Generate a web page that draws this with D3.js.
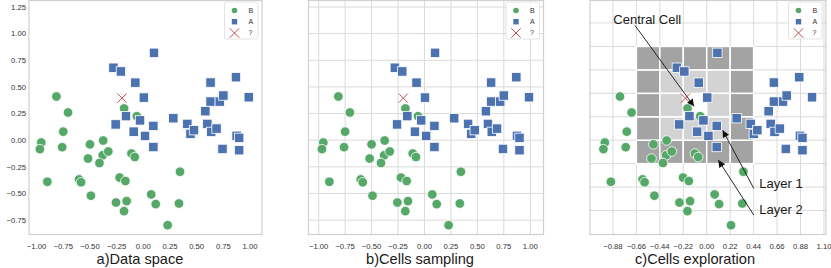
<!DOCTYPE html>
<html>
<head>
<meta charset="utf-8">
<script src="https://cdn.jsdelivr.net/npm/d3@7"></script>
<style>
  body { margin: 0; background: #fff; }
  text { font-family: "Liberation Sans", Arial, sans-serif; }
</style>
</head>
<body>
<div id="chart"></div>
<script>
// class B (green circles)
var bX = [-0.814, -0.705, -0.75, -0.76, -0.956, -0.969, -0.899, -0.5, -0.518, -0.376,
          -0.381, -0.328, -0.411, -0.602, -0.583, -0.491, -0.18, -0.061, -0.111, -0.08,
          -0.222, -0.168, -0.256, -0.156, -0.181, 0.074, 0.116, 0.344, 0.334, 0.228];
var bY = [0.41, 0.26, 0.08, -0.066, -0.022, -0.084, -0.39, -0.039, -0.172, -0.003,
          -0.142, -0.106, -0.214, -0.368, -0.395, -0.521, 0.298, 0.225, -0.125, -0.158,
          -0.351, -0.383, -0.585, -0.572, -0.666, -0.509, -0.6, -0.296, -0.594, -0.798];
// class A (blue squares)
var aX = [0.10, -0.28, -0.21, -0.075, 0.005, -0.162, -0.259, -0.031, -0.09, 0.016,
          0.094, 0.094, 0.281, 0.4125, 0.442, 0.475, 0.581, 0.60, 0.63, 0.63,
          0.636, 0.686, 0.716, 0.75, 0.742, 0.868, 0.874, 0.898, 0.898, 0.988];
var aY = [0.82, 0.68, 0.645, 0.54, 0.40, 0.226, 0.148, 0.186, 0.08, 0.04,
          0.134, -0.064, 0.206, 0.153, 0.059, 0.094, 0.272, 0.153, 0.541, 0.3625,
          0.078, 0.109, 0.3625, 0.419, -0.082, 0.591, 0.041, 0.022, -0.094, 0.403];
// unknown point
var queryX = [-0.2];
var queryY = [0.395];

var ticksAB = [-1.00, -0.75, -0.50, -0.25, 0.00, 0.25, 0.50, 0.75, 1.00];
var ticksY = [-0.75, -0.50, -0.25, 0.00, 0.25, 0.50, 0.75, 1.00, 1.25];
var ticksC = [-0.88, -0.66, -0.44, -0.22, 0.00, 0.22, 0.44, 0.66, 0.88, 1.10];
var legendLabels = ["B", "A", "?"];
var titles = ["a)Data space", "b)Cells sampling", "c)Cells exploration"];

// cells: size, lower-left corner of central cell, layer index per color
var cellSize = 0.22;
var centralCell = [-0.22, 0.22];
var layerCount = 2;

// annotations in panel c (data coords): text pos, arrow start, arrow end
var notes = [
  { label: "Central Cell", tx: -0.876, ty: 1.087, from: [-0.673, 1.077], to: [-0.119, 0.318] },
  { label: "Layer 1", tx: 0.493, ty: -0.446, from: [0.441, -0.452], to: [0.150, 0.094] },
  { label: "Layer 2", tx: 0.493, ty: -0.696, from: [0.441, -0.702], to: [0.109, -0.187] }
];

function init(){

    var w = 831;
    var h = 268;

    var green = "#55a868", blue = "#4c72b0", red = "#c44e52";
    var gridColor = "#dadada";

    var svg = d3.select("#chart")
                .append("svg")
                .attr("width", w)
                .attr("height", h);

    svg.append("defs").append("marker")
        .attr("id", "head")
        .attr("viewBox", "0 0 10 10")
        .attr("refX", 10).attr("refY", 5)
        .attr("markerWidth", 9).attr("markerHeight", 7)
        .attr("markerUnits", "userSpaceOnUse")
        .attr("orient", "auto")
        .append("path")
        .attr("d", "M0,0 L10,5 L0,10 z")
        .attr("fill", "#111");

    var y = d3.scaleLinear().domain([-0.885, 1.311]).range([234.5, 0.5]);

    var panels = [
        { x: d3.scaleLinear().domain([-1.071, 1.112]).range([29, 262]), grid: false, xt: ticksAB, yt: ticksY, cx: 140 },
        { x: d3.scaleLinear().domain([-1.096, 1.125]).range([308.5, 543.5]), grid: true, xt: ticksAB, yt: ticksY, cx: 420 },
        { x: d3.scaleLinear().domain([-1.095, 1.119]).range([590, 826]), grid: true, xt: ticksC, yt: ticksC, cx: 695 }
    ];

    var fmt = d3.format(".2f");

    panels.forEach(function(p, k){

        var x = p.x;
        var g = svg.append("g");
        var x0 = x.range()[0], x1 = x.range()[1];
        var y0 = y.range()[1], y1 = y.range()[0];

        // grid lines
        if (p.grid) {
            g.selectAll("line.vg")
                .data(p.xt.filter(function(d){ return x(d) > x0 + 1 && x(d) < x1 - 1; }))
                .enter().append("line")
                .attr("x1", function(d){ return x(d); })
                .attr("x2", function(d){ return x(d); })
                .attr("y1", y0).attr("y2", y1)
                .attr("stroke", gridColor).attr("stroke-width", 1);
            g.selectAll("line.hg")
                .data(p.yt.filter(function(d){ return y(d) > y0 + 1 && y(d) < y1 - 1; }))
                .enter().append("line")
                .attr("x1", x0).attr("x2", x1)
                .attr("y1", function(d){ return y(d); })
                .attr("y2", function(d){ return y(d); })
                .attr("stroke", gridColor).attr("stroke-width", 1);
        }

        // explored cells (panel c only)
        if (k == 2) {
            var cells = [];
            for (var i = -layerCount; i <= layerCount; i++) {
                for (var j = -layerCount; j <= layerCount; j++) {
                    cells.push({ i: i, j: j, layer: Math.max(Math.abs(i), Math.abs(j)) });
                }
            }
            var cellColor = ["#ffffff", "#d3d3d3", "#a3a3a3"];
            g.selectAll("rect.cell")
                .data(cells)
                .enter().append("rect")
                .attr("x", function(d){ return x(centralCell[0] + d.i * cellSize); })
                .attr("y", function(d){ return y(centralCell[1] + (d.j + 1) * cellSize); })
                .attr("width", function(d){ return x(cellSize) - x(0); })
                .attr("height", function(d){ return y(0) - y(cellSize); })
                .attr("fill", function(d){ return cellColor[d.layer]; })
                .attr("stroke", "#fff")
                .attr("stroke-width", 1.5);
        }

        // frame
        g.append("rect")
            .attr("x", x0).attr("y", y0)
            .attr("width", x1 - x0).attr("height", y1 - y0)
            .attr("fill", "none")
            .attr("stroke", "#d0d0d0")
            .attr("stroke-width", 1.2);

        // x tick labels
        g.selectAll("text.xt")
            .data(p.xt)
            .enter().append("text")
            .attr("x", function(d){ return x(d); })
            .attr("y", 249)
            .attr("text-anchor", "middle")
            .attr("font-size", "7.7px")
            .attr("fill", "#333")
            .text(function(d){ return fmt(d); });

        // y tick labels, only first panel
        if (k == 0) {
            g.selectAll("text.yt")
                .data(p.yt)
                .enter().append("text")
                .attr("x", x0 - 3)
                .attr("y", function(d){ return y(d) + 2.8; })
                .attr("text-anchor", "end")
                .attr("font-size", "7.7px")
                .attr("fill", "#333")
                .text(function(d){ return fmt(d); });
        }

        // points: green then blue
        g.selectAll("circle.b")
            .data(d3.range(bX.length))
            .enter().append("circle")
            .attr("cx", function(i){ return x(bX[i]); })
            .attr("cy", function(i){ return y(bY[i]); })
            .attr("r", 4.8)
            .attr("fill", green)
            .attr("stroke", "#fff")
            .attr("stroke-width", 0.8);

        var s = 9.4;
        g.selectAll("rect.a")
            .data(d3.range(aX.length))
            .enter().append("rect")
            .attr("x", function(i){ return x(aX[i]) - s / 2; })
            .attr("y", function(i){ return y(aY[i]) - s / 2; })
            .attr("width", s).attr("height", s)
            .attr("fill", blue)
            .attr("stroke", "#fff")
            .attr("stroke-width", 0.8);

        var q = 4.6;
        queryX.forEach(function(qx, i){
            var px = x(qx), py = y(queryY[i]);
            g.append("path")
                .attr("d", "M" + (px - q) + "," + (py - q) + "L" + (px + q) + "," + (py + q) +
                           "M" + (px - q) + "," + (py + q) + "L" + (px + q) + "," + (py - q))
                .attr("stroke", red)
                .attr("stroke-width", 1)
                .attr("fill", "none");
        });

        // legend
        var lx = x1 - 37.5, ly = 2;
        var lg = g.append("g").attr("transform", "translate(" + lx + "," + ly + ")");
        lg.append("rect")
            .attr("width", 33.5).attr("height", 37)
            .attr("rx", 2)
            .attr("fill", "#fff")
            .attr("fill-opacity", 0.85)
            .attr("stroke", "#dcdcdc")
            .attr("stroke-width", 0.8);
        lg.append("circle").attr("cx", 10).attr("cy", 8.5).attr("r", 2.8).attr("fill", green);
        lg.append("rect").attr("x", 7.3).attr("y", 17).attr("width", 5.4).attr("height", 5.4).attr("fill", blue);
        lg.append("path")
            .attr("d", "M5.3,27.3L14.7,36.7M5.3,36.7L14.7,27.3")
            .attr("transform", "translate(0,-1)")
            .attr("stroke", red).attr("stroke-width", 1);
        lg.selectAll("text")
            .data(legendLabels)
            .enter().append("text")
            .attr("x", 24)
            .attr("y", function(d, i){ return 11 + i * 11; })
            .attr("font-size", "7px")
            .attr("fill", "#333")
            .text(function(d){ return d; });

        // annotations
        if (k == 2) {
            notes.forEach(function(n){
                g.append("line")
                    .attr("x1", x(n.from[0])).attr("y1", y(n.from[1]))
                    .attr("x2", x(n.to[0])).attr("y2", y(n.to[1]))
                    .attr("stroke", "#111")
                    .attr("stroke-width", 0.9)
                    .attr("marker-end", "url(#head)");
                g.append("text")
                    .attr("x", x(n.tx)).attr("y", y(n.ty))
                    .attr("font-size", "13px")
                    .attr("fill", "#1a1a1a")
                    .text(n.label);
            });
        }

        // panel title
        svg.append("text")
            .attr("x", p.cx).attr("y", 264)
            .attr("text-anchor", "middle")
            .attr("font-size", "14.6px")
            .attr("fill", "#1a1a1a")
            .text(titles[k]);
    });
}

window.onload = init;
</script>
</body>
</html>
